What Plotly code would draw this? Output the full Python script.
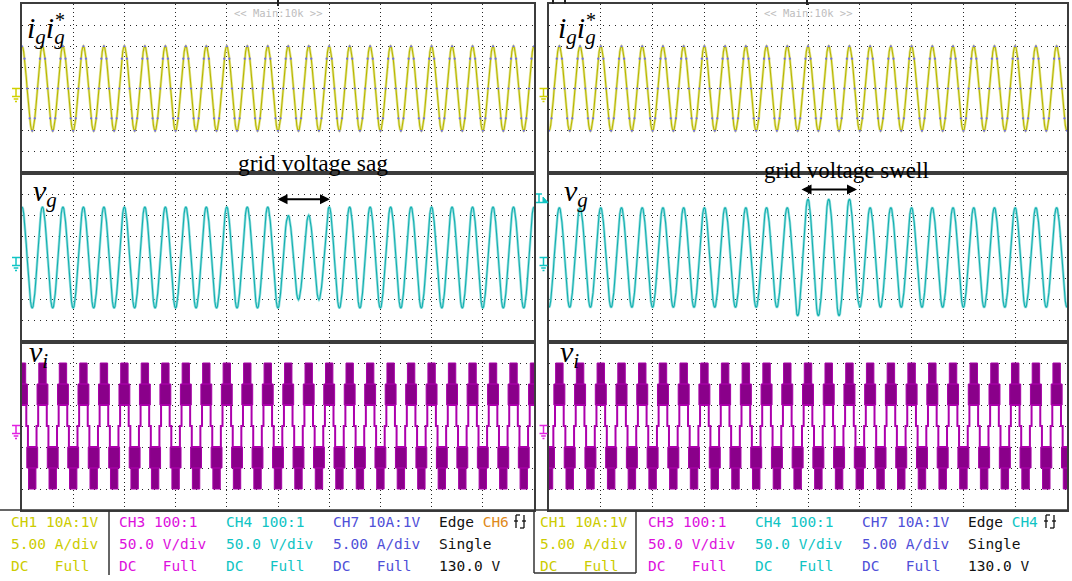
import plotly.graph_objects as go

W, H = 1072, 581

# ---------------- data ----------------
# 10 horizontal divisions per screen, 25 mains cycles per screen (period = 0.4 div)
N_DIV = 10
N_CYC = 25
PERIOD = 0.4

# one half cycle of the displayed sinusoid, from crest (+1) to trough (-1)
HALF_SHAPE = [1.0, 0.966, 0.866, 0.707, 0.5, 0.259, 0.0,
              -0.259, -0.5, -0.707, -0.866, -0.966, -1.0]

# amplitude (divisions) of every successive extremum (51 extrema = 50 half cycles)
ig_left_amp = [2.0, 2.0, 2.0, 2.0, 2.0, 2.0, 2.0, 2.0, 2.0, 2.0,
               2.0, 2.0, 2.0, 2.0, 2.0, 2.0, 2.0, 2.0, 2.0, 2.0,
               2.0, 2.0, 2.0, 2.0, 2.0, 2.0, 2.0, 2.0, 2.0, 2.0,
               2.0, 2.0, 2.0, 2.0, 2.0, 2.0, 2.0, 2.0, 2.0, 2.0,
               2.0, 2.0, 2.0, 2.0, 2.0, 2.0, 2.0, 2.0, 2.0, 2.0, 2.0]
vg_left_amp = [2.4, 2.4, 2.4, 2.4, 2.4, 2.4, 2.4, 2.4, 2.4, 2.4,
               2.4, 2.4, 2.4, 2.4, 2.4, 2.4, 2.4, 2.4, 2.4, 2.4,
               2.4, 2.4, 2.4, 2.4, 2.4, 2.4, 2.0, 2.0, 2.0, 2.0,
               2.4, 2.4, 2.4, 2.4, 2.4, 2.4, 2.4, 2.4, 2.4, 2.4,
               2.4, 2.4, 2.4, 2.4, 2.4, 2.4, 2.4, 2.4, 2.4, 2.4, 2.4]
ig_right_amp = [2.0, 2.0, 2.0, 2.0, 2.0, 2.0, 2.0, 2.0, 2.0, 2.0,
                2.0, 2.0, 2.0, 2.0, 2.0, 2.0, 2.0, 2.0, 2.0, 2.0,
                2.0, 2.0, 2.0, 2.0, 2.0, 2.0, 2.0, 2.0, 2.0, 2.0,
                2.0, 2.0, 2.0, 2.0, 2.0, 2.0, 2.0, 2.0, 2.0, 2.0,
                2.0, 2.0, 2.0, 2.0, 2.0, 2.0, 2.0, 2.0, 2.0, 2.0, 2.0]
vg_right_amp = [2.37, 2.37, 2.37, 2.37, 2.37, 2.37, 2.37, 2.37, 2.37, 2.37,
                2.37, 2.37, 2.37, 2.37, 2.37, 2.37, 2.37, 2.37, 2.37, 2.37,
                2.37, 2.37, 2.37, 2.37, 2.77, 2.77, 2.77, 2.77, 2.77, 2.77,
                2.37, 2.37, 2.37, 2.37, 2.37, 2.37, 2.37, 2.37, 2.37, 2.37,
                2.37, 2.37, 2.37, 2.37, 2.37, 2.37, 2.37, 2.37, 2.37, 2.37, 2.37]
START_SIGN_LEFT = 1     # left screen starts on a crest
START_SIGN_RIGHT = -1   # right screen starts on a trough

# seven-level inverter voltage: one period template (phase in periods, crest at 0)
VI_LINE_PHASE = [-0.21, -0.21, 0.21, 0.21, 0.29, 0.29, 0.71, 0.71, 0.79]
VI_LINE_LEVEL = [0, 1, 1, 0, 0, -1, -1, 0, 0]
VI_BAND_CENTER = [0.0, 0.0, 0.5, 0.5]
VI_BAND_HALF = [0.18, 0.265, 0.265, 0.18]
VI_BAND_LO = [2, 1, -2, -3]
VI_BAND_HI = [3, 2, -1, -2]
VI_START_LEFT = 0.0     # first crest position (div)
VI_START_RIGHT = 0.2

# status-bar texts
ch_cols = [
    ("CH1 10A:1V", "5.00 A/div", "DC   Full", "#cccc00"),
    ("CH3 100:1", "50.0 V/div", "DC   Full", "#dd10dd"),
    ("CH4 100:1", "50.0 V/div", "DC   Full", "#10c4c4"),
    ("CH7 10A:1V", "5.00 A/div", "DC   Full", "#5050d8"),
]
trig_src = [("CH6", "#e08a1a"), ("CH4", "#10c4c4")]
trig_rows = ["Single", "130.0 V"]
sag_text = "grid voltage sag"
swell_text = "grid voltage swell"


# ---------------- helpers ----------------
def px(x):
    return x / W


def py(y):
    return 1 - y / H


def sine_trace(amps, sign0):
    xs, ys = [], []
    step = PERIOD / 2
    for h in range(len(amps) - 1):
        s = sign0 * (1 if h % 2 == 0 else -1)
        for j, c in enumerate(HALF_SHAPE):
            if h > 0 and j == 0:
                continue
            a = amps[h] if c >= 0 else amps[h + 1]
            xs.append((h + j / (len(HALF_SHAPE) - 1)) * step)
            ys.append(s * a * c)
    return xs, ys


def vi_traces(start):
    lx, ly, bx, by = [], [], [], []
    for k in range(-2, N_CYC + 2):
        c0 = start + k * PERIOD
        for p, l in zip(VI_LINE_PHASE, VI_LINE_LEVEL):
            lx.append(c0 + p * PERIOD)
            ly.append(l)
        for cc, hw, lo, hi in zip(VI_BAND_CENTER, VI_BAND_HALF, VI_BAND_LO, VI_BAND_HI):
            xa = c0 + (cc - hw) * PERIOD
            xb = c0 + (cc + hw) * PERIOD
            bx += [xa, xb, xb, xa, xa, None]
            by += [lo, lo, hi, hi, lo, None]
    return lx, ly, bx, by


fig = go.Figure()

panels_x = [(22, 534), (549, 1067)]
rows_y = [(4, 173), (173, 342), (342, 510)]

layout_axes = {}
for p in range(2):
    for r in range(3):
        n = p * 3 + r + 1
        xa = "xaxis" if n == 1 else f"xaxis{n}"
        ya = "yaxis" if n == 1 else f"yaxis{n}"
        x0, x1 = panels_x[p]
        y0, y1 = rows_y[r]
        layout_axes[xa] = dict(domain=[px(x0), px(x1)], range=[0, N_DIV], dtick=1, tick0=0,
                               showticklabels=False, ticks="", zeroline=False,
                               showgrid=True, gridcolor="#262626", gridwidth=1.2, griddash="1px,3px",
                               showline=True, mirror=True, linecolor="#3c3c3c", linewidth=2,
                               anchor=f"y{'' if n == 1 else n}", fixedrange=True)
        layout_axes[ya] = dict(domain=[py(y1), py(y0)], range=[-4, 4], dtick=1, tick0=0,
                               showticklabels=False, ticks="", zeroline=False,
                               showgrid=True, gridcolor="#262626", gridwidth=1.2, griddash="1px,5px",
                               showline=True, mirror=True, linecolor="#3c3c3c", linewidth=2,
                               anchor=f"x{'' if n == 1 else n}", fixedrange=True)


def axes(p, r):
    n = p * 3 + r + 1
    return ("x" if n == 1 else f"x{n}"), ("y" if n == 1 else f"y{n}")


common = dict(mode="lines", hoverinfo="skip", showlegend=False)

for p, (iga, vga, sgn, vis) in enumerate([(ig_left_amp, vg_left_amp, START_SIGN_LEFT, VI_START_LEFT),
                                          (ig_right_amp, vg_right_amp, START_SIGN_RIGHT, VI_START_RIGHT)]):
    # grid current (yellow) with reference (blue dots)
    xa, ya = axes(p, 0)
    gx, gy = sine_trace(iga, sgn)
    fig.add_trace(go.Scatter(x=gx, y=gy, xaxis=xa, yaxis=ya, line=dict(color="#e6e69a", width=2.6), **common))
    fig.add_trace(go.Scatter(x=gx, y=gy, xaxis=xa, yaxis=ya, line=dict(color="#b8b800", width=1.1), **common))
    fig.add_trace(go.Scatter(x=gx[::3], y=gy[::3], xaxis=xa, yaxis=ya, mode="markers",
                             marker=dict(color="#6a6af0", size=2.2), hoverinfo="skip", showlegend=False))
    # grid voltage (cyan)
    xa, ya = axes(p, 1)
    vx, vy = sine_trace(vga, sgn)
    fig.add_trace(go.Scatter(x=vx, y=vy, xaxis=xa, yaxis=ya, line=dict(color="#9be0e0", width=2.6), **common))
    fig.add_trace(go.Scatter(x=vx, y=vy, xaxis=xa, yaxis=ya, line=dict(color="#14b0b0", width=1.1), **common))
    # inverter voltage (magenta)
    xa, ya = axes(p, 2)
    lx, ly, bx, by = vi_traces(vis)
    fig.add_trace(go.Scatter(x=bx, y=by, xaxis=xa, yaxis=ya, fill="toself", fillcolor="#8a008a",
                             line=dict(color="#a600a6", width=1), **common))
    fig.add_trace(go.Scatter(x=lx, y=ly, xaxis=xa, yaxis=ya, line=dict(color="#ac00ac", width=2), **common))

shapes = []


def seg(x0, y0, x1, y1, color, w=1.5):
    shapes.append(dict(type="line", xref="paper", yref="paper", x0=px(x0), y0=py(y0), x1=px(x1), y1=py(y1),
                       line=dict(color=color, width=w)))


def ground(cx, y0, color):
    seg(cx - 4, y0, cx + 4, y0, color)
    seg(cx, y0, cx, y0 + 8, color)
    seg(cx - 4, y0 + 8, cx + 4, y0 + 8, color)
    seg(cx - 2.3, y0 + 10.5, cx + 2.3, y0 + 10.5, color)
    seg(cx - 1, y0 + 13, cx + 1, y0 + 13, color)


for cx in (16, 543.5):
    ground(cx, 88.5, "#d0d000")
    ground(cx, 257.5, "#10c4c4")
    ground(cx, 425.5, "#e020e0")

# trigger level marker (right screen, CH4)
seg(536, 194, 542, 194, "#10c4c4", 1.5)
seg(539, 194, 539, 202.5, "#10c4c4", 1.5)
seg(536, 202.5, 548, 202.5, "#10c4c4", 1.5)
shapes.append(dict(type="path", xref="paper", yref="paper",
                   path=f"M {px(543)},{py(197)} L {px(548)},{py(202.5)} L {px(543)},{py(202.5)} Z",
                   fillcolor="#10c4c4", line=dict(color="#10c4c4", width=1)))

# top position markers
seg(278, 0, 278, 6, "#222222", 2)
seg(807, 0, 807, 5, "#222222", 2)
seg(553, 0, 553, 4, "#222222", 2)
seg(565, 0, 565, 4, "#222222", 2)

# status area borders
seg(109, 510, 109, 575, "#333333", 1.5)
seg(534, 510, 534, 573, "#333333", 1.5)
seg(534, 573, 636, 573, "#333333", 1.5)
seg(636, 510, 636, 573, "#333333", 1.5)
seg(0, 510, 534, 510, "#333333", 1.5)
seg(534, 510, 1067, 510, "#333333", 1.5)

# edge-trigger glyphs
for gx0 in (513, 1043):
    seg(gx0 + 3, 515, gx0 + 3, 528, "#111111", 1.3)
    seg(gx0 + 3, 515, gx0 + 7, 515, "#111111", 1.3)
    seg(gx0 + 1, 521, gx0 + 5, 521, "#111111", 1.3)
    seg(gx0 + 11, 515, gx0 + 11, 528, "#111111", 1.3)
    seg(gx0 + 7, 528, gx0 + 11, 528, "#111111", 1.3)
    seg(gx0 + 9, 521, gx0 + 13, 521, "#111111", 1.3)

annotations = []


def text(x, y, t, size, color="#000000", family="Liberation Serif", xanchor="left", yanchor="middle"):
    annotations.append(dict(x=px(x), y=py(y), xref="paper", yref="paper", text=t, showarrow=False,
                            xanchor=xanchor, yanchor=yanchor, font=dict(size=size, color=color, family=family)))


for dx in (0, 531):
    text(25 + dx, 30, "<i>i</i><sub><i>g</i></sub><i>i</i><sub><i>g</i></sub>", 30)
    text(53 + dx, 20, "*", 20)
    text(31 + dx, 193, "<i>v</i><sub><i>g</i></sub>", 30)
    text(27 + dx, 354, "<i>v</i><sub><i>i</i></sub>", 30)

text(278, 13, "&lt;&lt; Main:10k &gt;&gt;", 10.5, "#bdbdbd", "DejaVu Sans Mono", "center")
text(808, 13, "&lt;&lt; Main:10k &gt;&gt;", 10.5, "#bdbdbd", "DejaVu Sans Mono", "center")

text(313, 163, sag_text, 23.5, xanchor="center")
text(846, 170, swell_text, 23, xanchor="center")

# double-headed arrows
for (xa0, xa1, ya0) in ((276, 330, 199.3), (800, 857, 189.4)):
    annotations.append(dict(x=px(xa1), y=py(ya0), xref="paper", yref="paper", ax=-(xa1 - xa0), ay=0,
                            axref="pixel", ayref="pixel", text="", showarrow=True, arrowhead=2,
                            arrowside="end+start", arrowsize=1, arrowwidth=2, arrowcolor="#000000",
                            standoff=0, startstandoff=0))

row_y = [522, 544, 566]
mono = "DejaVu Sans Mono"
for p, off in enumerate((0, 529)):
    col_x = [8.5, 116.5, 224, 331]
    for (r1, r2, r3, col), cx in zip(ch_cols, col_x):
        text(cx + off, row_y[0], r1, 14.5, col, mono)
        text(cx + off, row_y[1], r2, 14.5, col, mono)
        text(cx + off, row_y[2], r3, 14.5, col, mono)
    src, scol = trig_src[p]
    text(437 + off, row_y[0], f"Edge <span style='color:{scol}'>{src}</span>", 14.5, "#111111", mono)
    text(437 + off, row_y[1], trig_rows[0], 14.5, "#111111", mono)
    text(437 + off, row_y[2], trig_rows[1], 14.5, "#111111", mono)

fig.update_layout(width=W, height=H, margin=dict(l=0, r=0, t=0, b=0),
                  paper_bgcolor="white", plot_bgcolor="white",
                  shapes=shapes, annotations=annotations, **layout_axes)

fig.write_html("out.html")
